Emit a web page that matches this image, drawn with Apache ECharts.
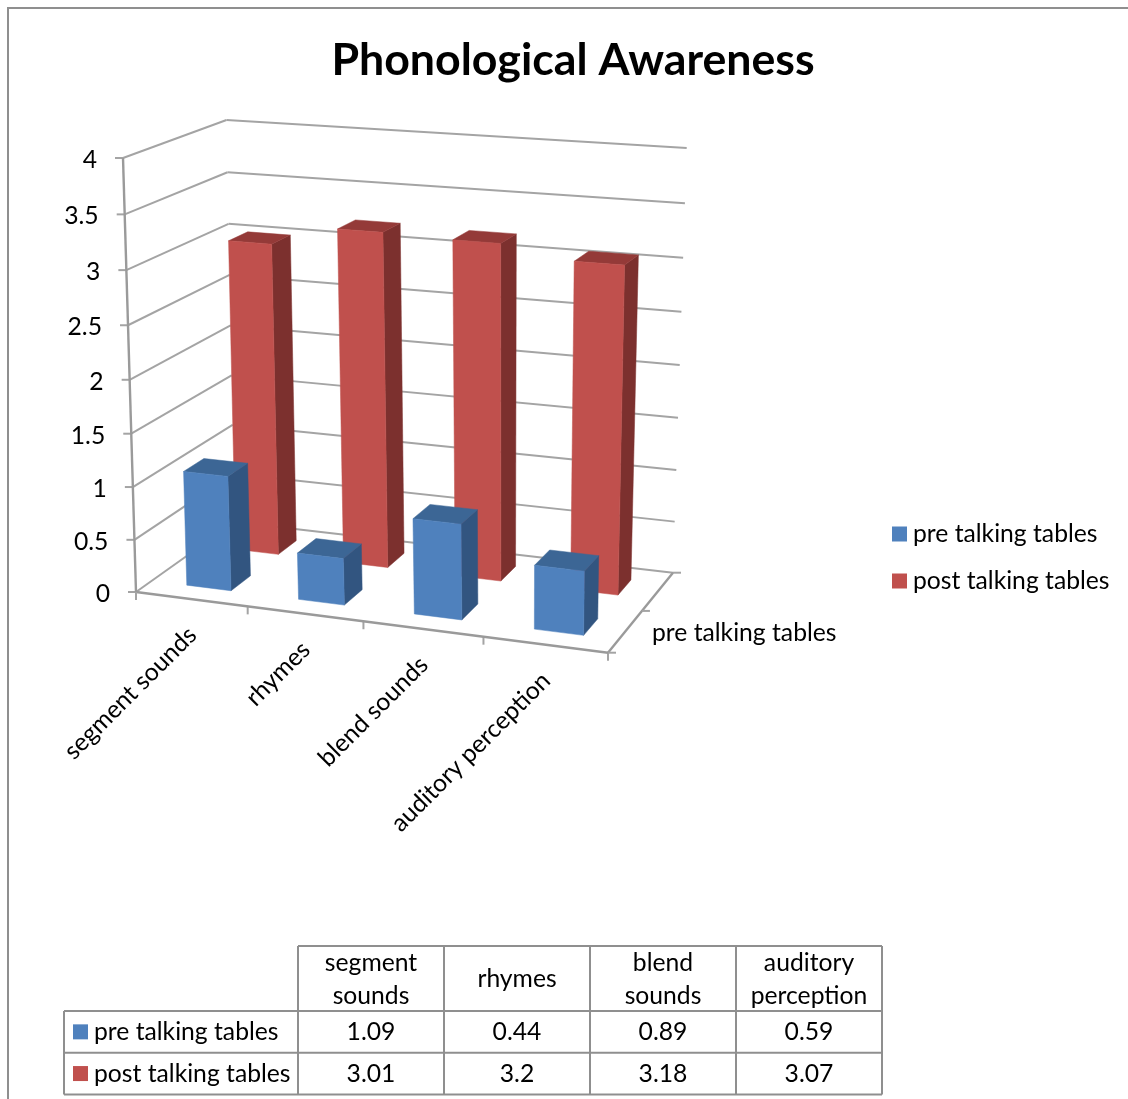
<!DOCTYPE html>
<html>
<head>
<meta charset="utf-8">
<style>html,body{margin:0;padding:0;background:#fff}#chart{width:1128px;height:1099px}</style>
<script src="https://cdn.jsdelivr.net/npm/echarts@6/dist/echarts.min.js"></script>
</head>
<body>
<div id="chart"></div>
<script>
// Chart values
const chartTitle = 'Phonological Awareness';
const categories = ['segment sounds', 'rhymes', 'blend sounds', 'auditory perception'];
const tableHeaders = [['segment', 'sounds'], ['rhymes'], ['blend', 'sounds'], ['auditory', 'perception']];
const seriesNames = ['pre talking tables', 'post talking tables'];
const preValues = [1.09, 0.44, 0.89, 0.59];
const postValues = [3.01, 3.2, 3.18, 3.07];
const yTicks = [0, 0.5, 1, 1.5, 2, 2.5, 3, 3.5, 4];
const yTickLabels = ['0', '0.5', '1', '1.5', '2', '2.5', '3', '3.5', '4'];

// Palette: front, side and top faces of the columns
const blue = { front: '#4f81bd', side: '#325580', top: '#3c6695' };
const red = { front: '#c0504d', side: '#7c302e', top: '#943a38' };
const gridColor = '#a4a4a4';
const frameColor = '#8f8f8f';
const font = 'Lato';
const textSize = 24.7;

// Layout of the flat grid that supplies the value and category scales
const GRID = { left: 123, top: 158, width: 550, height: 434 };

// Perspective box: floor and ceiling corners in screen space
function homography(p00, p10, p11, p01) {
  const dx1 = p10[0] - p11[0], dx2 = p01[0] - p11[0], sx = p00[0] - p10[0] + p11[0] - p01[0];
  const dy1 = p10[1] - p11[1], dy2 = p01[1] - p11[1], sy = p00[1] - p10[1] + p11[1] - p01[1];
  const det = dx1 * dy2 - dx2 * dy1;
  const g = (sx * dy2 - dx2 * sy) / det, h = (dx1 * sy - sx * dy1) / det;
  const a = p10[0] - p00[0] + g * p10[0], b = p01[0] - p00[0] + h * p01[0], c = p00[0];
  const d = p10[1] - p00[1] + g * p10[1], e = p01[1] - p00[1] + h * p01[1], f = p00[1];
  return (u, v) => {
    const w = g * u + h * v + 1;
    return [(a * u + b * v + c) / w, (d * u + e * v + f) / w];
  };
}
const floorAt = homography([136, 592], [608, 652.7], [673, 572.7], [234.5, 522]);
const ceilAt = homography([123, 158], [615.6, 193.7], [686.7, 148], [226.5, 120]);
const RISE = 1.045;

function project(u, v, t) {
  const k = t / (RISE - (RISE - 1) * t);
  const a = floorAt(u, v), b = ceilAt(u, v);
  return [a[0] + (b[0] - a[0]) * k, a[1] + (b[1] - a[1]) * k];
}
// Screen position from the flat scales to box coordinates
const uOf = x => (x - GRID.left) / GRID.width;
const tOf = y => (GRID.top + GRID.height - y) / GRID.height;

const BAR_WIDTH = 0.1, BAR_DEPTH = 0.2, BAR_SHIFT = 0.005;

function columnRenderer(row, colors) {
  return function (params, api) {
    const pos = api.coord([api.value(0), api.value(1)]);
    const u = uOf(pos[0]) + BAR_SHIFT, t = tOf(pos[1]);
    const u0 = u - BAR_WIDTH / 2, u1 = u + BAR_WIDTH / 2;
    const v0 = row - BAR_DEPTH / 2, v1 = row + BAR_DEPTH / 2;
    const poly = (pts, fill) => ({
      type: 'polygon', shape: { points: pts }, style: { fill: fill, stroke: fill, lineWidth: 0.5 }
    });
    return {
      type: 'group',
      children: [
        poly([project(u1, v0, 0), project(u1, v1, 0), project(u1, v1, t), project(u1, v0, t)], colors.side),
        poly([project(u0, v0, t), project(u1, v0, t), project(u1, v1, t), project(u0, v1, t)], colors.top),
        poly([project(u0, v0, 0), project(u1, v0, 0), project(u1, v0, t), project(u0, v0, t)], colors.front)
      ]
    };
  };
}

const segment = (a, b, width, color) => ({
  type: 'line',
  shape: { x1: a[0], y1: a[1], x2: b[0], y2: b[1] },
  style: { stroke: color || gridColor, lineWidth: width || 2 }
});

// Walls, value axis and value labels, one item for each tick
function wallRenderer(params, api) {
  const pos = api.coord([0, api.value(1)]);
  const t = tOf(pos[1]);
  const front = project(0, 0, t), back = project(0, 1, t), right = project(1, 1, t);
  const children = [
    segment(front, back),
    segment(back, right),
    segment([front[0] - 8, front[1]], front),
    {
      type: 'text',
      style: {
        x: front[0] - 26, y: front[1] + 2,
        text: yTickLabels[params.dataIndex],
        align: 'right', verticalAlign: 'middle',
        font: textSize + 'px ' + font, fill: '#000'
      }
    }
  ];
  return { type: 'group', children: children };
}

// Base edges, ticks and the labels of the category and depth axes
function baseRenderer(params, api) {
  const idx = params.dataIndex;
  const u = uOf(api.coord([api.value(0), 0])[0]);
  const edge = project(u, 0, 0);
  const tickU = u + 0.5 / categories.length;
  const tick = project(tickU, 0, 0);
  return {
    type: 'group',
    children: [
      segment([tick[0], tick[1]], [tick[0], tick[1] + 8]),
      {
        type: 'text',
        x: edge[0] + 1, y: edge[1] + 32,
        rotation: Math.PI / 4,
        style: {
          x: 0, y: 0,
          text: categories[idx],
          align: 'right', verticalAlign: 'middle',
          font: textSize + 'px ' + font, fill: '#000'
        }
      }
    ]
  };
}

// Fixed frame of the box
function boxRenderer() {
  const fl = project(0, 0, 0), fr = project(1, 0, 0), br = project(1, 1, 0), mid = project(1, 0.5, 0);
  return {
    type: 'group',
    children: [
      segment(project(0, 0, 1), fl, 2.4, '#9a9a9a'),
      segment(fl, fr, 2.4, '#9a9a9a'),
      segment(fr, br, 2.4, '#9a9a9a'),
      segment(fl, [fl[0], fl[1] + 8]),
      segment(fr, [fr[0] + 8, fr[1]]),
      segment(mid, [mid[0] + 8, mid[1]]),
      segment(br, [br[0] + 8, br[1]]),
      {
        type: 'text',
        style: {
          x: 652, y: mid[1] + 22,
          text: seriesNames[0], align: 'left', verticalAlign: 'middle',
          font: textSize + 'px ' + font, fill: '#000'
        }
      }
    ]
  };
}

// Data table below the plot
const TABLE = { left: 64, keyRight: 298, colWidth: 146, top: 946, headBottom: 1011, rowHeight: 41.7 };

function tableGraphics() {
  const out = [];
  const line = (x1, y1, x2, y2) => out.push({
    type: 'line', shape: { x1, y1, x2, y2 }, style: { stroke: frameColor, lineWidth: 2 }
  });
  const label = (x, y, text, align) => out.push({
    type: 'text', x: x, y: y,
    style: { text: text, align: align || 'center', verticalAlign: 'middle', font: textSize + 'px ' + font, fill: '#000' }
  });
  const T = TABLE, right = T.keyRight + T.colWidth * categories.length;
  const rows = [preValues, postValues];
  line(T.keyRight, T.top, right, T.top);
  line(T.left, T.headBottom, right, T.headBottom);
  rows.forEach((_, r) => line(T.left, T.headBottom + T.rowHeight * (r + 1), right, T.headBottom + T.rowHeight * (r + 1)));
  const bottom = T.headBottom + T.rowHeight * rows.length;
  line(T.left, T.headBottom, T.left, bottom);
  for (let c = 0; c <= categories.length; c++) {
    line(T.keyRight + T.colWidth * c, T.top, T.keyRight + T.colWidth * c, bottom);
  }
  tableHeaders.forEach((lines, c) => {
    const cx = T.keyRight + T.colWidth * (c + 0.5), cy = (T.top + T.headBottom) / 2 + 1;
    lines.forEach((s, i) => label(cx, cy + (i - (lines.length - 1) / 2) * 33, s));
  });
  rows.forEach((vals, r) => {
    const cy = T.headBottom + T.rowHeight * (r + 0.5);
    out.push({
      type: 'rect', shape: { x: 73, y: cy - 7.5, width: 15, height: 15 },
      style: { fill: r === 0 ? blue.front : red.front }
    });
    label(94, cy, seriesNames[r], 'left');
    vals.forEach((v, c) => label(T.keyRight + T.colWidth * (c + 0.5), cy, String(v)));
  });
  return out;
}

const chart = echarts.init(document.getElementById('chart'), null, { renderer: 'canvas' });
const xIndex = categories.map((_, i) => i);
chart.setOption({
  animation: false,
  backgroundColor: '#fff',
  color: [blue.front, red.front],
  title: {
    text: chartTitle, left: 568, top: 33, textAlign: 'center',
    textStyle: { fontFamily: font, fontWeight: 'bold', fontSize: 44.7, color: '#000' }
  },
  legend: {
    data: seriesNames, orient: 'vertical', left: 892, top: 520, padding: 0,
    itemWidth: 15, itemHeight: 15, itemGap: 19, icon: 'rect',
    textStyle: { fontFamily: font, fontSize: textSize, color: '#000', lineHeight: 28, padding: [0, 0, 0, 1] }
  },
  grid: { left: GRID.left, top: GRID.top, width: GRID.width, height: GRID.height },
  xAxis: { type: 'category', data: categories, show: false },
  yAxis: { type: 'value', min: 0, max: 4, interval: 0.5, show: false },
  series: [
    {
      type: 'custom', name: 'walls', silent: true, clip: false, z: 1,
      renderItem: wallRenderer, data: yTicks.map(t => [0, t]), encode: { x: 0, y: 1 }
    },
    {
      type: 'custom', name: 'base', silent: true, clip: false, z: 1,
      renderItem: baseRenderer, data: xIndex.map(i => [i, 0]), encode: { x: 0, y: 1 }
    },
    {
      type: 'custom', name: 'box', silent: true, clip: false, z: 1,
      renderItem: boxRenderer, data: [[0, 0]], encode: { x: 0, y: 1 }
    },
    {
      type: 'custom', name: seriesNames[1], clip: false, z: 2,
      renderItem: columnRenderer(0.75, red), data: postValues.map((v, i) => [i, v]), encode: { x: 0, y: 1 }
    },
    {
      type: 'custom', name: seriesNames[0], clip: false, z: 3,
      renderItem: columnRenderer(0.25, blue), data: preValues.map((v, i) => [i, v]), encode: { x: 0, y: 1 }
    }
  ],
  graphic: [
    {
      type: 'polyline', shape: { points: [[8, 1099], [8, 8], [1128, 8]] },
      style: { stroke: frameColor, lineWidth: 2, fill: null }
    }
  ].concat(tableGraphics())
});
</script>
</body>
</html>
